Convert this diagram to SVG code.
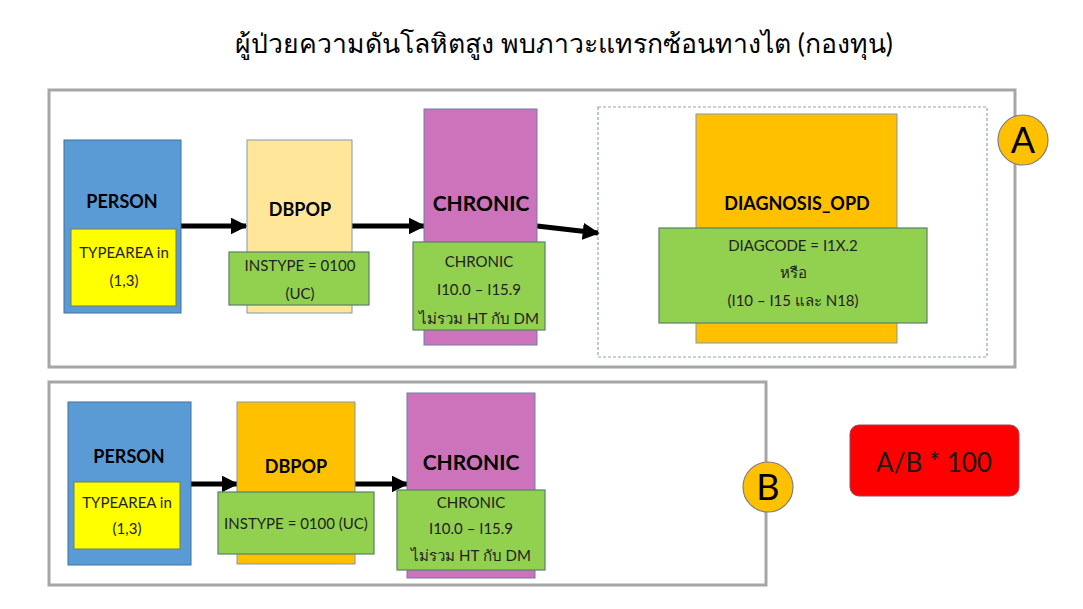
<svg xmlns="http://www.w3.org/2000/svg" width="1083" height="609" viewBox="0 0 1083 609">
<defs>
<style>
text{font-family:Lato,"Noto Sans","DejaVu Sans",sans-serif;fill:#000;text-anchor:middle}
.t{font-size:26.6px}
.h{font-weight:bold;font-size:18px}
.h2{font-weight:bold;font-size:21px}
.s{font-size:15px;fill:#222}
.frame{fill:#fff;stroke:#A6A6A6;stroke-width:3}
.dash{fill:none;stroke:#8EA5BD;stroke-width:1.2;stroke-dasharray:3 2}
.person{fill:#5B9BD5;stroke:#41719C;stroke-width:1}
.yel{fill:#FFFF00;stroke:#6E7F5E;stroke-width:1}
.grn{fill:#92D050;stroke:#5A7F6E;stroke-width:1.2}
.light{fill:#FFE699;stroke:#8497B0;stroke-width:1}
.org{fill:#FFC000;stroke:#8497B0;stroke-width:1}
.pink{fill:#CC73BB;stroke:#6C7FA5;stroke-width:1}
.circ{fill:#FFC000;stroke:#7F7F7F;stroke-width:1.2}
.conn{stroke:#000;stroke-width:5;fill:none;marker-end:url(#ah)}
</style>
<marker id="ah" viewBox="0 0 10 10" refX="9" refY="5" markerWidth="3.4" markerHeight="3.4" orient="auto" markerUnits="strokeWidth">
<path d="M0,0 L10,5 L0,10 z" fill="#000"/>
</marker>
</defs>
<rect width="1083" height="609" fill="#fff"/>
<text class="t" x="564" y="53">ผู้ป่วยความดันโลหิตสูง พบภาวะแทรกซ้อนทางไต (กองทุน)</text>

<rect class="frame" x="49" y="90" width="966" height="277"/>
<rect class="frame" x="49" y="382" width="717" height="203"/>
<rect class="dash" x="598" y="107" width="389" height="250"/>

<g id="connectors">
<line class="conn" x1="181" y1="226" x2="246" y2="226"/>
<line class="conn" x1="352" y1="226" x2="424" y2="226"/>
<line class="conn" x1="537" y1="226" x2="598" y2="233"/>
<line class="conn" x1="191" y1="484" x2="237" y2="484"/>
<line class="conn" x1="355" y1="484" x2="407" y2="484"/>
</g>

<g id="personA">
<rect class="person" x="64" y="140" width="117" height="173"/>
<text class="h" x="122" y="208">PERSON</text>
<rect class="yel" x="71" y="229" width="105" height="77"/>
<text class="s" x="124" y="258">TYPEAREA in</text>
<text class="s" x="124" y="286">(1,3)</text>
</g>
<g id="dbpopA">
<rect class="light" x="247" y="140" width="105" height="173"/>
<text class="h" x="300" y="216">DBPOP</text>
<rect class="grn" x="229" y="252" width="140" height="53"/>
<text class="s" x="300" y="271">INSTYPE = 0100</text>
<text class="s" x="300" y="299">(UC)</text>
</g>
<g id="chronicA">
<rect class="pink" x="424" y="109" width="113" height="236"/>
<text class="h2" x="481" y="211">CHRONIC</text>
<rect class="grn" x="413" y="242" width="132" height="88"/>
<text class="s" x="479" y="267">CHRONIC</text>
<text class="s" x="479" y="295">I10.0 – I15.9</text>
<text class="s" x="479" y="324">ไม่รวม HT กับ DM</text>
</g>
<g id="diagA">
<rect class="org" x="696" y="114" width="201" height="229"/>
<text class="h" x="797" y="210">DIAGNOSIS_OPD</text>
<rect class="grn" x="659" y="228" width="268" height="95"/>
<text class="s" x="793" y="251">DIAGCODE = I1X.2</text>
<text class="s" x="793" y="278">หรือ</text>
<text class="s" x="793" y="306">(I10 – I15 และ N18)</text>
</g>
<g id="labelA">
<circle class="circ" cx="1023" cy="140" r="25"/>
<text x="1023" y="153" style="font-size:36px">A</text>
</g>

<g id="personB">
<rect class="person" x="68" y="402" width="123" height="163"/>
<text class="h" x="129" y="463">PERSON</text>
<rect class="yel" x="74" y="482" width="106" height="67"/>
<text class="s" x="127" y="508">TYPEAREA in</text>
<text class="s" x="127" y="534">(1,3)</text>
</g>
<g id="dbpopB">
<rect class="org" x="237" y="402" width="118" height="162"/>
<text class="h" x="296" y="473">DBPOP</text>
<rect class="grn" x="218" y="492" width="156" height="62"/>
<text class="s" x="296" y="529">INSTYPE = 0100 (UC)</text>
</g>
<g id="chronicB">
<rect class="pink" x="407" y="393" width="128" height="185"/>
<text class="h2" x="471" y="470">CHRONIC</text>
<rect class="grn" x="397" y="490" width="148" height="80"/>
<text class="s" x="471" y="508">CHRONIC</text>
<text class="s" x="471" y="534">I10.0 – I15.9</text>
<text class="s" x="471" y="561">ไม่รวม HT กับ DM</text>
</g>
<g id="labelB">
<circle class="circ" cx="768" cy="487" r="25"/>
<text x="768" y="500" style="font-size:36px">B</text>
</g>
<g id="formula">
<rect x="850" y="425" width="169" height="71" rx="9" fill="#FF0000" stroke="#A0405A" stroke-width="1"/>
<text x="934" y="472" style="font-size:26px;fill:#1a1a1a">A/B * 100</text>
</g>
</svg>
